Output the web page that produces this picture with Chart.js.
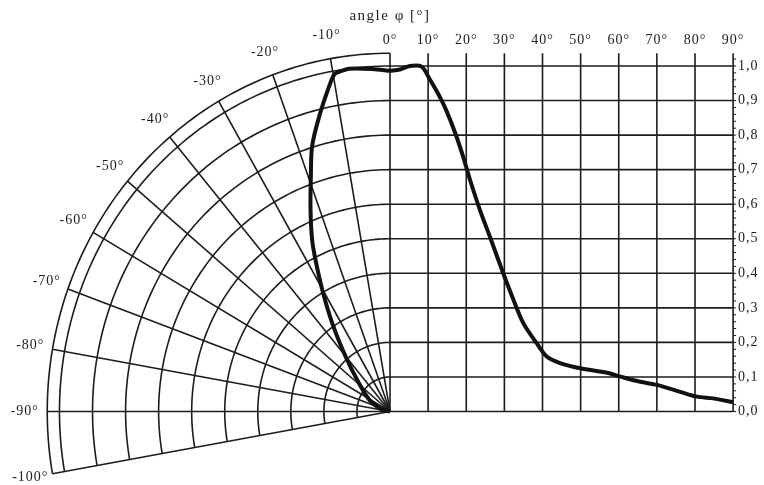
<!DOCTYPE html>
<html>
<head>
<meta charset="utf-8">
<script src="https://cdn.jsdelivr.net/npm/chart.js@4.4.0/dist/chart.umd.min.js"></script>
<style>
html,body{margin:0;padding:0;background:#fff;}
#wrap{width:764px;height:485px;}
</style>
</head>
<body>
<div id="wrap"><canvas id="myChart" width="764" height="485"></canvas></div>
<script>

//------------------------------------------------------------------
// right half : angle phi [deg] -> relative intensity (cartesian)
var angle_pos = [0, 2.6, 5.2, 8.3, 10.5, 13.1, 14.9, 17.1, 19.2, 21.0, 23.6, 26.2, 29.7, 32.4, 35.0, 38.5, 41.1, 44.6, 49.9, 56.9, 60.4, 65.6, 70.0, 76.1, 80.5, 84.8, 90];
var value_pos = [0.986, 0.99, 1.0, 0.998, 0.96, 0.91, 0.868, 0.806, 0.737, 0.67, 0.583, 0.506, 0.40, 0.323, 0.255, 0.197, 0.159, 0.14, 0.125, 0.112, 0.101, 0.086, 0.077, 0.057, 0.043, 0.038, 0.027];

// left half : angle phi [deg] -> relative intensity (polar)
var angle_neg = [0, -3.1, -7.1, -8.9, -9.8, -11.1, -14.1, -17.1, -19.4, -22.4, -25.4, -27.2, -30.2, -34.4, -40.2, -49, -62, -75, -90];
var value_neg = [0.986, 0.993, 1.0, 0.995, 0.99, 0.958, 0.88, 0.802, 0.721, 0.631, 0.549, 0.493, 0.407, 0.309, 0.208, 0.124, 0.07, 0.03, 0];

// ticks / grid
var x_ticks = [0, 10, 20, 30, 40, 50, 60, 70, 80, 90];
var y_ticks = [0, 0.1, 0.2, 0.3, 0.4, 0.5, 0.6, 0.7, 0.8, 0.9, 1.0];
var polar_angles = [-10, -20, -30, -40, -50, -60, -70, -80, -90, -100];
var polar_rings = [0.1, 0.2, 0.3, 0.4, 0.5, 0.6, 0.7, 0.8, 0.9, 1.0];

//------------------------------------------------------------------

var K = 86.7;        // x-axis degrees per unit radius on the polar side
var R_OUT = 1.037;   // outer ring
var R_LBL = 1.105;   // polar labels
var FONT = '14px "Liberation Serif", "DejaVu Serif", serif';
var INK = '#1c1c1c';

function rad(d){ return d*Math.PI/180; }

var data_right = angle_pos.map(function(a, i){ return {x: a, y: value_pos[i]}; });
var data_left = angle_neg.map(function(a, i){
    return {x: value_neg[i]*Math.sin(rad(a))*K, y: value_neg[i]*Math.cos(rad(a))};
});

const polar_grid = {
    id: 'polar_grid',
    beforeDatasetsDraw(chart){
        const ctx = chart.ctx;
        const xs = chart.scales.x, ys = chart.scales.y;
        function P(theta, r){
            return [xs.getPixelForValue(r*Math.sin(rad(theta))*K), ys.getPixelForValue(r*Math.cos(rad(theta)))];
        }
        ctx.save();
        ctx.fillStyle = '#fff';
        ctx.fillRect(0, 0, chart.width, chart.height);
        ctx.strokeStyle = INK;
        ctx.lineWidth = 1.6;

        // polar rings
        polar_rings.concat([R_OUT]).forEach(function(r){
            ctx.beginPath();
            for (let t = -100; t <= 0; t += 1){
                const p = P(t, r);
                if (t == -100) ctx.moveTo(p[0], p[1]); else ctx.lineTo(p[0], p[1]);
            }
            ctx.stroke();
        });
        // polar spokes
        polar_angles.forEach(function(t){
            const a = P(t, 0), b = P(t, R_OUT);
            ctx.beginPath(); ctx.moveTo(a[0], a[1]); ctx.lineTo(b[0], b[1]); ctx.stroke();
        });

        // cartesian grid
        const y0 = ys.getPixelForValue(0), yt = ys.getPixelForValue(R_OUT);
        const x0 = xs.getPixelForValue(0), x90 = xs.getPixelForValue(90);
        x_ticks.forEach(function(v){
            const x = xs.getPixelForValue(v);
            ctx.beginPath(); ctx.moveTo(x, yt); ctx.lineTo(x, y0); ctx.stroke();
        });
        y_ticks.forEach(function(v){
            const y = ys.getPixelForValue(v);
            ctx.beginPath(); ctx.moveTo(x0, y); ctx.lineTo(x90, y); ctx.stroke();
        });
        // small ruler ticks on right axis
        ctx.lineWidth = 1;
        for (let v = 0; v <= 1.03; v += 0.02){
            const y = ys.getPixelForValue(v);
            ctx.beginPath(); ctx.moveTo(x90, y); ctx.lineTo(x90+3, y); ctx.stroke();
        }

        // labels
        ctx.fillStyle = INK;
        ctx.font = FONT;
        ctx.letterSpacing = '1px';
        ctx.textBaseline = 'middle';
        ctx.textAlign = 'center';
        x_ticks.forEach(function(v){
            ctx.fillText(v + '°', xs.getPixelForValue(v), yt - 13);
        });
        polar_angles.forEach(function(t){
            const p = P(t, R_LBL);
            ctx.fillText(t + '°', p[0], p[1]);
        });
        ctx.textAlign = 'left';
        y_ticks.forEach(function(v){
            ctx.fillText(v.toFixed(1).replace('.', ','), x90 + 5, ys.getPixelForValue(v));
        });
        ctx.textAlign = 'center';
        ctx.font = '15px "Liberation Serif", "DejaVu Serif", serif';
        ctx.letterSpacing = '1.5px';
        ctx.fillText('angle φ [°]', x0, 16);
        ctx.restore();
    }
};

const ctx = document.getElementById('myChart');

const diagram = new Chart(ctx, {
    type: 'scatter',
    data: {
        datasets: [{
            data: data_left,
            showLine: true,
            borderColor: '#111',
            borderWidth: 4,
            pointRadius: 0,
            tension: 0.3
        },{
            data: data_right,
            showLine: true,
            borderColor: '#111',
            borderWidth: 4,
            pointRadius: 0,
            tension: 0.3
        }]
    },
    options: {
        responsive: false,
        animation: false,
        layout: { padding: 0 },
        plugins: { legend: { display: false }, tooltip: { enabled: false } },
        scales: {
            x: { type: 'linear', display: false, min: -102.3, max: 98.1 },
            y: { type: 'linear', display: false, min: -0.2127, max: 1.191 }
        }
    },
    plugins: [polar_grid]
});

</script>
</body>
</html>
